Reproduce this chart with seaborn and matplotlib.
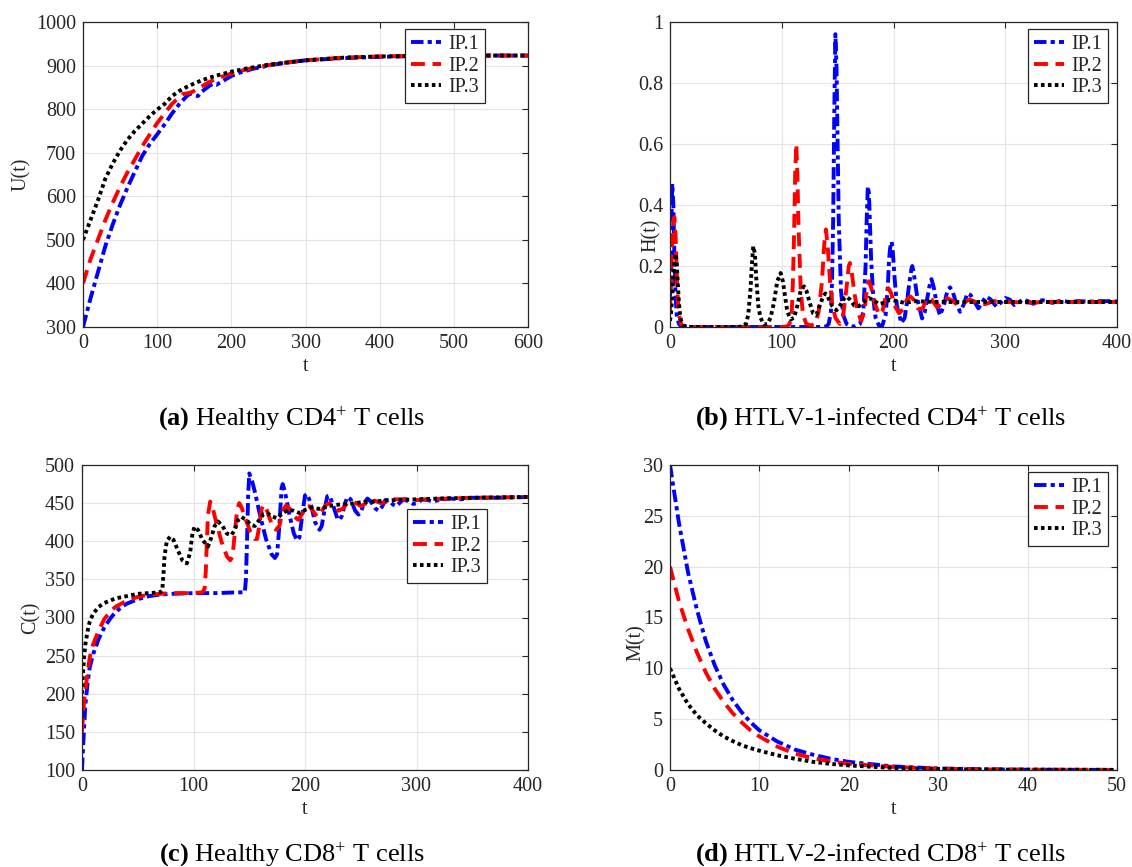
import matplotlib
matplotlib.use("Agg")
import numpy as np
import pandas as pd
import matplotlib.pyplot as plt
import seaborn as sns
from matplotlib.ticker import FixedLocator, FuncFormatter

# ---------------- data ----------------
labels = ["IP.1", "IP.2", "IP.3"]

# (a) U(t)
tU1 = [0, 10, 20, 30, 40, 50, 60, 70, 80, 90, 100, 110, 120, 130, 140, 145, 150, 155, 160, 170, 175, 180,
       190, 200, 210, 220, 230, 240, 250, 260, 280, 300, 350, 400, 450, 500, 600]
U1 = [300, 365, 425, 485, 535, 580, 620, 657, 693, 720, 742, 765, 790, 812, 830, 836, 832, 830, 840, 853, 858, 856,
      866, 876, 883, 888, 893, 896, 900, 903, 908, 912, 917, 920, 922, 923, 923]
tU2 = [0, 10, 20, 30, 40, 50, 60, 70, 80, 90, 100, 110, 120, 130, 135, 140, 145, 150, 160, 170, 180, 190, 200,
       220, 240, 260, 280, 300, 350, 400, 450, 500, 600]
U2 = [400, 455, 500, 545, 585, 622, 655, 685, 715, 742, 768, 790, 812, 828, 835, 836, 838, 842, 852, 862, 870, 876, 882,
      891, 898, 904, 908, 912, 918, 921, 922, 923, 923]
tU3 = [0, 10, 20, 30, 40, 50, 60, 70, 80, 90, 100, 110, 120, 130, 140, 150, 160, 170, 180, 200, 220, 250, 300,
       350, 400, 500, 600]
U3 = [500, 545, 590, 640, 675, 705, 730, 750, 767, 784, 799, 812, 830, 842, 851, 859, 866, 872, 877, 886, 893, 902, 912,
      918, 921, 923, 923]

# (b) H(t)
tH1 = [0, 1, 2, 3, 4, 5, 6, 8, 10, 20, 40, 60, 80, 100, 120, 135, 140, 142, 144, 145, 146, 147, 148, 149, 150, 151,
       153, 155, 158, 162, 166, 170, 173, 175, 176, 177, 178, 179, 180, 182, 184, 187, 190, 193, 195, 196, 197, 198.4,
       199.5, 201, 203, 207, 210, 212, 214, 216, 216.8, 218, 220, 222, 225.6, 228, 231, 233, 234, 236, 239, 241.6,
       245, 248, 250.6, 253, 256, 259.5, 263, 266, 269, 272, 276, 280, 283, 287, 292, 296, 300, 304, 308, 312, 316,
       320, 325, 329, 333, 337, 342, 346, 350, 354, 358, 365, 375, 385, 400]
H1 = [0.10, 0.30, 0.47, 0.40, 0.22, 0.10, 0.04, 0.01, 0.002, 0.0, 0.0, 0.0, 0.0, 0.0, 0.0, 0.0, 0.002, 0.01, 0.05,
      0.15, 0.35, 0.70, 0.96, 0.85, 0.60, 0.35, 0.12, 0.04, 0.01, 0.002, 0.002, 0.01, 0.05, 0.20, 0.35, 0.46, 0.44,
      0.33, 0.22, 0.09, 0.03, 0.005, 0.005, 0.04, 0.14, 0.22, 0.26, 0.28, 0.24, 0.16, 0.07, 0.013, 0.03, 0.08, 0.14,
      0.19, 0.20, 0.18, 0.13, 0.08, 0.028, 0.05, 0.11, 0.15, 0.157, 0.13, 0.07, 0.038, 0.07, 0.115, 0.13, 0.115,
      0.08, 0.05, 0.075, 0.11, 0.105, 0.085, 0.061, 0.085, 0.10, 0.09, 0.067, 0.08, 0.095, 0.09, 0.072, 0.08, 0.091,
      0.085, 0.076, 0.083, 0.088, 0.085, 0.079, 0.083, 0.086, 0.084, 0.081, 0.085, 0.083, 0.085, 0.084]
tH2 = [0, 1, 2, 3, 4, 5, 6, 7, 8, 10, 12, 20, 40, 60, 80, 100, 105, 107, 109, 110, 111, 112, 113, 114, 115, 117,
       119, 122, 126, 130, 133, 136, 138, 139.5, 141, 143, 145, 148, 152, 155, 158, 160, 161, 163, 165, 168, 171,
       174, 176, 178, 180, 183, 187, 190, 193, 195.5, 198, 201, 205, 209, 212, 215, 218, 222, 226, 230, 234, 239,
       244, 248, 253, 258, 263, 268, 275, 282, 290, 300, 320, 340, 360, 380, 400]
H2 = [0.05, 0.15, 0.28, 0.35, 0.36, 0.30, 0.18, 0.09, 0.04, 0.01, 0.002, 0.0, 0.0, 0.0, 0.0, 0.0, 0.002, 0.01, 0.05,
      0.15, 0.30, 0.50, 0.60, 0.50, 0.33, 0.12, 0.04, 0.01, 0.005, 0.01, 0.05, 0.15, 0.27, 0.32, 0.27, 0.16, 0.08,
      0.03, 0.01, 0.04, 0.13, 0.20, 0.21, 0.17, 0.11, 0.05, 0.02, 0.05, 0.12, 0.15, 0.13, 0.08, 0.04, 0.05, 0.10,
      0.127, 0.11, 0.07, 0.045, 0.06, 0.09, 0.10, 0.09, 0.06, 0.06, 0.095, 0.09, 0.065, 0.075, 0.095, 0.085, 0.07,
      0.08, 0.09, 0.08, 0.075, 0.085, 0.082, 0.08, 0.082, 0.082, 0.082, 0.082]
tH3 = [0, 1, 2, 3, 4, 5, 6, 7, 8, 9, 10, 12, 15, 20, 40, 60, 65, 68, 70, 72, 73, 74.5, 76, 77, 79, 81, 84, 87, 90,
       93, 96, 99, 101, 103, 105, 108, 111, 114, 117, 120, 122, 125, 128, 131, 134, 137, 139, 141, 145, 149, 153,
       156, 158, 161, 165, 169, 174, 178, 182, 187, 192, 197, 203, 210, 220, 230, 250, 300, 400]
H3 = [0.02, 0.05, 0.10, 0.17, 0.22, 0.24, 0.21, 0.14, 0.08, 0.04, 0.02, 0.005, 0.001, 0.0, 0.0, 0.0, 0.002, 0.01,
      0.04, 0.12, 0.19, 0.265, 0.24, 0.17, 0.07, 0.03, 0.008, 0.01, 0.03, 0.08, 0.15, 0.177, 0.15, 0.10, 0.05, 0.025,
      0.03, 0.07, 0.12, 0.133, 0.12, 0.08, 0.045, 0.04, 0.07, 0.10, 0.11, 0.10, 0.07, 0.055, 0.075, 0.095, 0.10,
      0.09, 0.07, 0.068, 0.085, 0.095, 0.088, 0.075, 0.08, 0.09, 0.085, 0.079, 0.085, 0.083, 0.082, 0.082, 0.082]

# (c) C(t)
tC1 = [0, 1, 2, 3, 5, 7, 10, 15, 20, 25, 30, 35, 40, 50, 60, 70, 80, 100, 120, 140, 146, 147, 148, 149, 150, 151,
       152, 155, 160, 165, 170, 173, 175, 177, 179, 180, 182, 186, 190, 193, 195, 198, 200, 202, 205, 209, 213, 215,
       218, 220, 222, 225, 229, 231, 233, 236, 238, 241, 245, 248, 250, 253, 256, 259, 263, 266, 269, 272, 275, 279,
       282, 286, 289, 293, 297, 301, 305, 310, 315, 322, 330, 340, 350, 370, 400]
C1 = [100, 130, 160, 185, 214, 235, 252, 272, 287, 298, 307, 313, 318, 324, 328, 330, 331, 332, 332, 333, 333, 350, 400,
      460, 489, 485, 482, 465, 432, 403, 383, 378, 383, 420, 470, 475, 465, 435, 410, 401, 405, 440, 460, 462, 450,
      425, 415, 420, 445, 459, 460, 448, 430, 428, 433, 450, 458, 455, 440, 435, 438, 450, 456, 452, 443, 440, 445,
      454, 454, 448, 446, 452, 455, 452, 449, 450, 455, 454, 452, 455, 456, 455, 457, 457, 458]
tC2 = [0, 1, 2, 3, 5, 7, 10, 15, 20, 25, 30, 40, 50, 60, 70, 80, 90, 100, 108, 110, 111, 112, 113, 115, 117, 120,
       125, 130, 133, 135, 137, 139, 141, 143, 147, 151, 155, 157, 159, 161, 163, 166, 170, 174, 177, 180, 183, 186,
       190, 194, 197, 201, 204, 208, 211, 215, 219, 222, 226, 230, 234, 238, 242, 246, 250, 254, 258, 263, 268, 274,
       280, 290, 300, 310, 330, 350, 400]
C2 = [150, 172, 192, 205, 228, 248, 265, 283, 298, 307, 314, 322, 327, 330, 331, 332, 332, 332, 333, 338, 360, 400, 435,
      452, 445, 427, 400, 380, 375, 380, 410, 440, 450, 445, 428, 412, 403, 403, 420, 442, 448, 440, 423, 415, 420,
      440, 447, 443, 433, 428, 435, 445, 446, 438, 432, 440, 448, 450, 446, 440, 443, 450, 452, 450, 446, 449, 453,
      453, 450, 452, 455, 455, 454, 455, 456, 457, 458]
tC3 = [0, 1, 2, 3, 5, 7, 10, 15, 20, 30, 40, 50, 60, 70, 72, 73, 74, 76, 79, 82, 86, 90, 94, 97, 99, 101, 104, 108,
       113, 116, 119, 122, 126, 130, 134, 137, 140, 143, 147, 151, 155, 159, 163, 166, 170, 175, 180, 185, 190, 195,
       200, 205, 210, 215, 220, 230, 240, 250, 260, 270, 280, 300, 320, 350, 400]
C3 = [200, 230, 250, 265, 282, 295, 305, 314, 319, 325, 328, 331, 332, 333, 336, 355, 380, 400, 406, 402, 388, 375, 371,
      385, 410, 419, 415, 402, 393, 405, 420, 426, 420, 410, 408, 415, 428, 432, 428, 422, 420, 428, 436, 437, 433,
      430, 437, 441, 440, 437, 441, 444, 443, 442, 446, 448, 449, 451, 452, 453, 454, 455, 456, 457, 458]

# (d) M(t)
tM = [0, 1, 2, 3, 4, 5, 6, 7, 8, 9, 10, 12, 14, 16, 18, 20, 25, 30, 35, 40, 50]
M1 = [30, 24.3, 19.5, 15.8, 12.7, 10.3, 8.4, 6.9, 5.7, 4.7, 3.9, 2.8, 2.0, 1.5, 1.1, 0.8, 0.35, 0.15, 0.07, 0.03, 0.01]
M2 = [20, 16.6, 13.9, 11.6, 9.6, 8.0, 6.7, 5.6, 4.7, 3.9, 3.3, 2.3, 1.6, 1.15, 0.85, 0.6, 0.3, 0.13, 0.06, 0.03, 0.01]
M3 = [10, 8.0, 6.5, 5.4, 4.6, 3.9, 3.3, 2.85, 2.45, 2.15, 1.9, 1.45, 1.1, 0.8, 0.6, 0.45, 0.2, 0.1, 0.05, 0.03, 0.01]

captions = [r"$\mathbf{(a)}$ Healthy CD4$^{+}$ T cells",
            r"$\mathbf{(b)}$ HTLV-1-infected CD4$^{+}$ T cells",
            r"$\mathbf{(c)}$ Healthy CD8$^{+}$ T cells",
            r"$\mathbf{(d)}$ HTLV-2-infected CD8$^{+}$ T cells"]

# ---------------- style ----------------
sns.set_theme(style="whitegrid")
plt.rcParams.update({
    "font.family": ["Liberation Serif", "DejaVu Serif"],
    "mathtext.fontset": "custom",
    "mathtext.rm": "Liberation Serif",
    "mathtext.bf": "Liberation Serif:bold",
    "mathtext.it": "Liberation Serif:italic",
    "lines.scale_dashes": False,
    "axes.edgecolor": "#262626",
    "axes.linewidth": 0.9,
    "grid.color": "#e4e4e4",
    "grid.linewidth": 0.8,
    "axes.facecolor": "white",
})

colors = {"IP.1": "#0000ff", "IP.2": "#ff0000", "IP.3": "#000000"}
styles = {"IP.1": (0, (9, 3, 3, 3)), "IP.2": (0, (10, 5.5)), "IP.3": (0, (2.6, 2.4))}
LW = 2.8

W, H = 1132, 867
fig = plt.figure(figsize=(W / 100, H / 100), dpi=100)


def add_ax(l, t, r, b):
    return fig.add_axes([l / W, 1 - b / H, (r - l) / W, (b - t) / H])


def fmt(v, _):
    return f"{v:g}"


def panel(ax, series, xlim, ylim, xticks, yticks, ylabel, leg_anchor, ylab_xy):
    frames = []
    for lab, (tt, vv) in zip(labels, series):
        frames.append(pd.DataFrame({"t": tt, "value": vv, "IP": lab}))
    df = pd.concat(frames, ignore_index=True)
    for lab in labels:
        sub = df[df["IP"] == lab]
        sns.lineplot(data=sub, x="t", y="value", ax=ax, color=colors[lab], linestyle=styles[lab],
                     linewidth=LW, estimator=None, sort=False, legend=False)
    ax.set_xlim(*xlim)
    ax.set_ylim(*ylim)
    ax.xaxis.set_major_locator(FixedLocator(xticks))
    ax.yaxis.set_major_locator(FixedLocator(yticks))
    ax.xaxis.set_major_formatter(FuncFormatter(fmt))
    ax.yaxis.set_major_formatter(FuncFormatter(fmt))
    ax.tick_params(direction="in", length=4, width=0.8, top=True, right=True,
                   labelsize=14.5, colors="#262626", pad=5)
    ax.grid(True)
    for s in ax.spines.values():
        s.set_visible(True)
        s.set_color("#262626")
        s.set_linewidth(0.9)
    ax.set_xlabel("t", fontsize=14.5, color="#262626")
    ax.set_ylabel(ylabel, fontsize=14.5, color="#262626")
    ax.xaxis.set_label_coords(0.5, -0.131)
    ax.xaxis.label.set_verticalalignment("center")
    ax.yaxis.set_label_coords(*ylab_xy)
    ax.yaxis.label.set_verticalalignment("center")
    leg = ax.legend(handles=ax.lines[:3], labels=labels, loc="upper right", bbox_to_anchor=leg_anchor,
                    fontsize=14.5, frameon=True, fancybox=False, framealpha=1, edgecolor="#262626",
                    borderpad=0.3, labelspacing=0.12, handlelength=1.5, handletextpad=0.35,
                    borderaxespad=0)
    leg.get_frame().set_linewidth(0.9)


axA = add_ax(83, 22, 528, 327)
axB = add_ax(670, 22, 1117, 327)
axC = add_ax(82, 465, 528, 770)
axD = add_ax(670, 465, 1117, 770)

panel(axA, [(tU1, U1), (tU2, U2), (tU3, U3)], (0, 600), (300, 1000), range(0, 601, 100),
      range(300, 1001, 100), "U(t)", (0.9034, 0.977), (-0.139, 0.5))
panel(axB, [(tH1, H1), (tH2, H2), (tH3, H3)], (0, 400), (0, 1), range(0, 401, 100),
      [0, 0.2, 0.4, 0.6, 0.8, 1.0], "H(t)", (0.98, 0.977), (-0.0425, 0.30))
panel(axC, [(tC1, C1), (tC2, C2), (tC3, C3)], (0, 400), (100, 500), range(0, 401, 100),
      range(100, 501, 50), "C(t)", (0.908, 0.856), (-0.114, 0.5))
panel(axD, [(tM, M1), (tM, M2), (tM, M3)], (0, 50), (0, 30), range(0, 51, 10),
      range(0, 31, 5), "M(t)", (0.98, 0.977), (-0.076, 0.418))

cap_pos = [(292, 425), (881, 425), (292, 861), (881, 861)]
for (cx, cy), cap in zip(cap_pos, captions):
    fig.text(cx / W, 1 - cy / H, cap, ha="center", va="baseline", fontsize=19, color="black")

fig.savefig("out.png", dpi=100)
